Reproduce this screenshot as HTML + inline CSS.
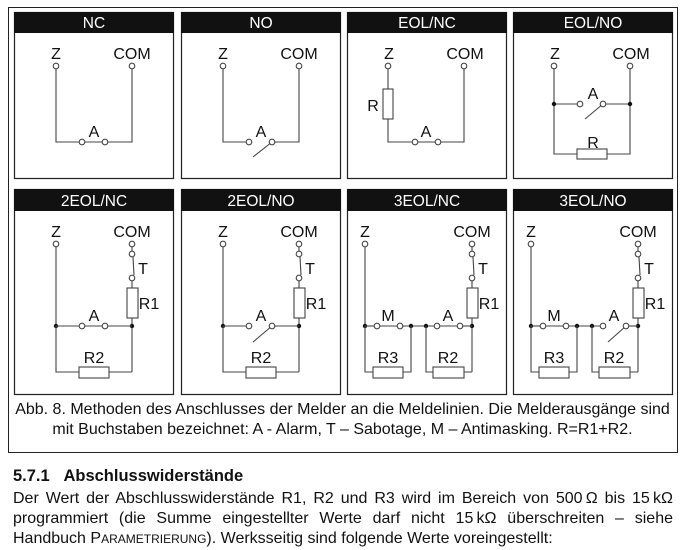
<!DOCTYPE html>
<html><head><meta charset="utf-8"><style>
body{margin:0;background:#fff;width:699px;height:550px;overflow:hidden;font-family:"Liberation Sans",Arial,sans-serif;}
svg{position:absolute;left:0;top:0}
.t{position:absolute;left:13px;width:660px;font-size:16px;color:#111;white-space:nowrap;}
.j{text-align:justify;text-align-last:justify;}
</style></head><body>
<svg width="699" height="550" viewBox="0 0 699 550" font-family="Liberation Sans, Arial, sans-serif">
<rect x="8.5" y="7.5" width="669" height="445" fill="none" stroke="#222" stroke-width="1"/>
<g id="panels" stroke="#222" fill="none" stroke-width="1.2">
</g>
<g id="hdr"></g>
<g id="d" stroke="#444" stroke-width="1.1" fill="none"></g>
<g id="lab" font-size="16" fill="#111" text-anchor="middle"></g>
</svg>
<div class="t" style="top:400px;left:8px;width:669px;text-align:center;line-height:20px;">Abb. 8. Methoden des Anschlusses der Melder an die Meldelinien. Die Melderausgänge sind<br>mit Buchstaben bezeichnet: A - Alarm, T – Sabotage, M – Antimasking. R=R1+R2.</div>
<div class="t" style="top:467px;font-weight:bold;font-size:16.5px;">5.7.1&nbsp;&nbsp;&nbsp;Abschlusswiderstände</div>
<div class="t j" style="top:490px;">Der Wert der Abschlusswiderstände R1, R2 und R3 wird im Bereich von 500&thinsp;Ω bis 15&thinsp;kΩ</div>
<div class="t j" style="top:510px;">programmiert (die Summe eingestellter Werte darf nicht 15&thinsp;kΩ überschreiten – siehe</div>
<div class="t" style="top:530px;">Handbuch P<span style="font-size:12px">ARAMETRIERUNG</span>). Werksseitig sind folgende Werte voreingestellt:</div>
<script>
const NS="http://www.w3.org/2000/svg";
function el(g,tag,a,txt){const e=document.createElementNS(NS,tag);for(const k in a)e.setAttribute(k,a[k]);if(txt)e.textContent=txt;document.getElementById(g).appendChild(e);return e;}
const P=[14,181,347,513];
const names=[["NC","NO","EOL/NC","EOL/NO"],["2EOL/NC","2EOL/NO","3EOL/NC","3EOL/NO"]];
const rows=[[12,178,33],[189,394,211]];
function L(pts){el("d","polyline",{points:pts.map(p=>p.join(",")).join(" ")});}
function C(x,y){el("d","circle",{cx:x,cy:y,r:2.8,fill:"#fff"});}
function D(x,y){el("d","circle",{cx:x,cy:y,r:2.2,fill:"#111",stroke:"none"});}
function R(x,y,w,h){el("d","rect",{x:x,y:y,width:w,height:h,fill:"#fff"});}
function T(x,y,s){el("lab","text",{x:x,y:y},s);}
for(let r=0;r<2;r++)for(let i=0;i<4;i++){
 const x=P[i],[y0,y1,yh]=rows[r];
 el("panels","rect",{x:x+.5,y:y0+.5,width:159,height:y1-y0});
 el("hdr","rect",{x:x,y:y0,width:160,height:yh-y0,fill:"#111"});
 el("hdr","text",{x:x+80,y:yh-5,"font-size":"15.5",fill:"#fff","text-anchor":"middle"},names[r][i]);
}
for(let i=0;i<4;i++){const x=P[i],z=x+42,c=x+118;T(z,59,"Z");T(c,59,"COM");}
(function(){const x=14,z=x+42,c=x+118;L([[z,69],[z,142],[x+68,142]]);L([[x+68,142],[x+91,142]]);L([[x+91,142],[c,142],[c,69]]);C(x+68,142);C(x+91,142);C(z,66);C(c,66);T(x+80,137,"A");})();
(function(){const x=181,z=x+42,c=x+118;L([[z,69],[z,142],[x+68,142]]);L([[x+91,142],[c,142],[c,69]]);L([[x+91,142],[x+72,157]]);C(x+68,142);C(x+91,142);C(z,66);C(c,66);T(x+80,137,"A");})();
(function(){const x=347,z=x+41,c=x+117;L([[z,69],[z,142],[x+68,142]]);L([[x+68,142],[x+91,142]]);L([[x+91,142],[c,142],[c,69]]);R(z-5,89,10,30);C(x+68,142);C(x+91,142);C(z,66);C(c,66);T(x+79,137,"A");T(z-15,111,"R");})();
(function(){const x=513,z=x+41,c=x+117;L([[z,69],[z,154],[c,154],[c,69]]);L([[z,104],[x+67,104]]);L([[x+90,104],[c,104]]);L([[x+90,104],[x+72,119]]);R(x+64,149,30,10);C(x+67,104);C(x+90,104);D(z,104);D(c,104);C(z,66);C(c,66);T(x+80,99,"A");T(x+80,148,"R");})();
for(let i=0;i<4;i++){const x=P[i];
 const zz=(i>1)?x+18:x+42, cc=(i>1)?x+125:x+118;
 T(zz,237,"Z");T(cc,237,"COM");
 L([[zz,247],[zz,326]]);
 L([[cc,247],[cc,251]]);L([[cc+1,257],[cc+2,275]]);L([[cc,281],[cc,288]]);R(cc-5,288,11,30);L([[cc,318],[cc,372]]);
 C(zz,244);C(cc,244);C(cc,254);C(cc,278);T(cc+11,274,"T");T(cc+17,309,"R1");D(cc,326);D(zz,326);
}
[14,181].forEach((x,k)=>{const z=x+42,c=x+118;L([[z,326],[x+68,326]]);L([[x+91,326],[c,326]]);if(k==0)L([[x+68,326],[x+91,326]]);else L([[x+91,326],[x+72,342]]);
 C(x+68,326);C(x+91,326);L([[z,326],[z,372],[c,372]]);R(x+65,367,30,11);T(x+80,321,"A");T(x+80,363,"R2");});
[347,513].forEach((x,k)=>{const z=x+18,c=x+125,m=x+64,a=x+79;
 L([[z,326],[x+30,326]]);L([[x+30,326],[x+53,326]]);L([[x+53,326],[x+90,326]]);L([[x+113,326],[c,326]]);
 if(k==0)L([[x+90,326],[x+113,326]]);else L([[x+113,326],[x+95,342]]);
 C(x+30,326);C(x+53,326);C(x+90,326);C(x+113,326);D(m,326);D(a,326);
 L([[z,326],[z,372],[m,372],[m,326]]);L([[a,326],[a,372],[c,372]]);
 R(x+26,367,30,11);R(x+86,367,31,11);
 T(x+41,321,"M");T(x+101,321,"A");T(x+41,363,"R3");T(x+101,363,"R2");});
</script>
</body></html>
